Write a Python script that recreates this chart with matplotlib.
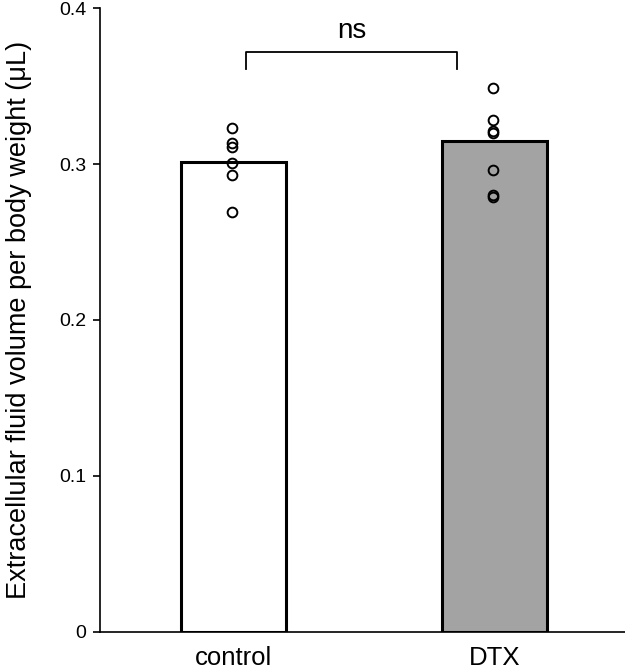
import numpy as np
import matplotlib.pyplot as plt

plt.rcParams["font.family"] = ["Liberation Sans", "DejaVu Sans"]

groups = ["control", "DTX"]
means = [0.301, 0.315]
bar_colors = ["white", "#a3a3a3"]
control_pts = [0.323, 0.3135, 0.311, 0.3005, 0.293, 0.269]
dtx_pts = [0.349, 0.328, 0.321, 0.320, 0.296, 0.280, 0.279]
yticks = [0, 0.1, 0.2, 0.3, 0.4]
ytick_labels = ["0", "0.1", "0.2", "0.3", "0.4"]

fig = plt.figure(figsize=(6.25, 6.69), dpi=100)
ax = fig.add_axes([0.16, 0.0557, 0.84, 0.9322])

x = np.arange(len(groups))
ax.bar(x, means, width=0.402, color=bar_colors, edgecolor="black", linewidth=2.2, zorder=2)

for xi, pts in zip(x, [control_pts, dtx_pts]):
    ax.plot(np.full(len(pts), xi - 0.006), pts, "o", mfc="none", mec="black",
            mew=1.4, ms=7, zorder=3, clip_on=False)

# significance bracket
bx0, bx1, by, leg = 0.05, 0.855, 0.372, 0.011
ax.plot([bx0, bx0, bx1, bx1], [by - leg, by, by, by - leg], color="black", lw=1.3, clip_on=False)
ax.text((bx0 + bx1) / 2, by + 0.005, "ns", ha="center", va="bottom", fontsize=20)

ax.set_xlim(-0.511, 1.5)
ax.set_ylim(0, 0.4)
ax.set_yticks(yticks)
ax.set_yticklabels(ytick_labels, fontsize=14)
ax.set_xticks(x)
ax.set_xticklabels(groups, fontsize=18.5)
ax.tick_params(axis="x", length=0, pad=10)
ax.tick_params(axis="y", length=5, width=1.2, pad=5)
ax.spines["top"].set_visible(False)
ax.spines["right"].set_visible(False)
ax.spines["left"].set_linewidth(1.2)
ax.spines["bottom"].set_linewidth(1.2)
ax.set_ylabel("Extracellular fluid volume per body weight (μL)", fontsize=19.5, labelpad=19)

fig.savefig("out.png", dpi=100)
